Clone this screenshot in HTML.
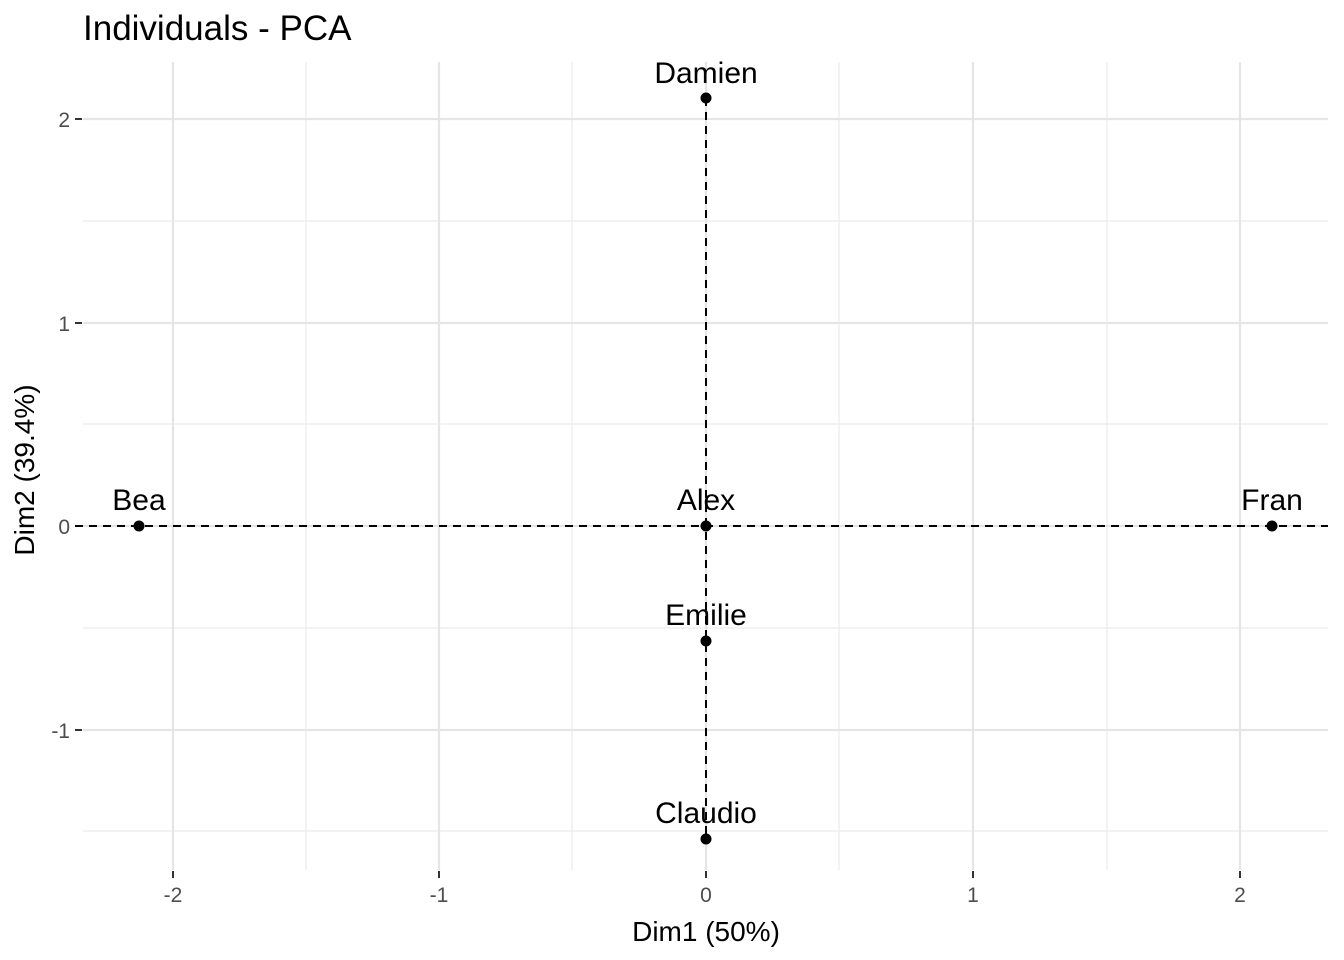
<!DOCTYPE html>
<html><head><meta charset="utf-8"><style>body{margin:0;background:#fff}svg{display:block}</style></head>
<body>
<svg width="1344" height="960" xmlns="http://www.w3.org/2000/svg" font-family="Liberation Sans, Arial, sans-serif">
<rect width="1344" height="960" fill="#fff"/>
<g stroke="#ebebeb" stroke-width="1.2">
<line x1="306" y1="62" x2="306" y2="870"/><line x1="572" y1="62" x2="572" y2="870"/>
<line x1="839" y1="62" x2="839" y2="870"/><line x1="1107" y1="62" x2="1107" y2="870"/>
<line x1="83" y1="221" x2="1328" y2="221"/><line x1="83" y1="424" x2="1328" y2="424"/>
<line x1="83" y1="628" x2="1328" y2="628"/><line x1="83" y1="831" x2="1328" y2="831"/>
</g>
<g stroke="#e5e5e5" stroke-width="2.2">
<line x1="173" y1="62" x2="173" y2="870"/><line x1="439" y1="62" x2="439" y2="870"/>
<line x1="706" y1="62" x2="706" y2="870"/><line x1="973" y1="62" x2="973" y2="870"/>
<line x1="1240" y1="62" x2="1240" y2="870"/>
<line x1="83" y1="119" x2="1328" y2="119"/><line x1="83" y1="323" x2="1328" y2="323"/>
<line x1="83" y1="526" x2="1328" y2="526"/><line x1="83" y1="730" x2="1328" y2="730"/>
</g>
<g stroke="#333" stroke-width="2">
<line x1="75" y1="119" x2="82" y2="119"/><line x1="75" y1="323" x2="82" y2="323"/>
<line x1="75" y1="526" x2="82" y2="526"/><line x1="75" y1="730" x2="82" y2="730"/>
<line x1="173" y1="871" x2="173" y2="878"/><line x1="439" y1="871" x2="439" y2="878"/>
<line x1="706" y1="871" x2="706" y2="878"/><line x1="973" y1="871" x2="973" y2="878"/>
<line x1="1240" y1="871" x2="1240" y2="878"/>
</g>
<g stroke="#000" stroke-width="2" stroke-dasharray="8,6">
<line x1="75" y1="526" x2="1328" y2="526"/>
<line x1="706" y1="98" x2="706" y2="839"/>
</g>
<g fill="#000">
<circle cx="139" cy="526" r="5.5"/><circle cx="1272" cy="526" r="5.5"/>
<circle cx="706" cy="98" r="5.5"/><circle cx="706" cy="526" r="5.5"/>
<circle cx="706" cy="641" r="5.5"/><circle cx="706" cy="839" r="5.5"/>
</g>
<g font-size="30" text-anchor="middle" fill="#000">
<text x="139" y="510">Bea</text><text x="1272" y="510">Fran</text>
<text x="706" y="83">Damien</text><text x="706" y="510">Alex</text>
<text x="706" y="625">Emilie</text><text x="706" y="823">Claudio</text>
</g>
<g font-size="21" fill="#4d4d4d" text-anchor="end">
<text x="70" y="127">2</text><text x="70" y="331">1</text>
<text x="70" y="534">0</text><text x="70" y="738">-1</text>
</g>
<g font-size="21" fill="#4d4d4d" text-anchor="middle">
<text x="173" y="902">-2</text><text x="439" y="902">-1</text><text x="706" y="902">0</text>
<text x="973" y="902">1</text><text x="1240" y="902">2</text>
</g>
<text x="706" y="941" font-size="28" text-anchor="middle">Dim1 (50%)</text>
<text transform="translate(34,470) rotate(-90)" font-size="28" text-anchor="middle">Dim2 (39.4%)</text>
<text x="83" y="40" font-size="35">Individuals - PCA</text>
</svg>
</body></html>
